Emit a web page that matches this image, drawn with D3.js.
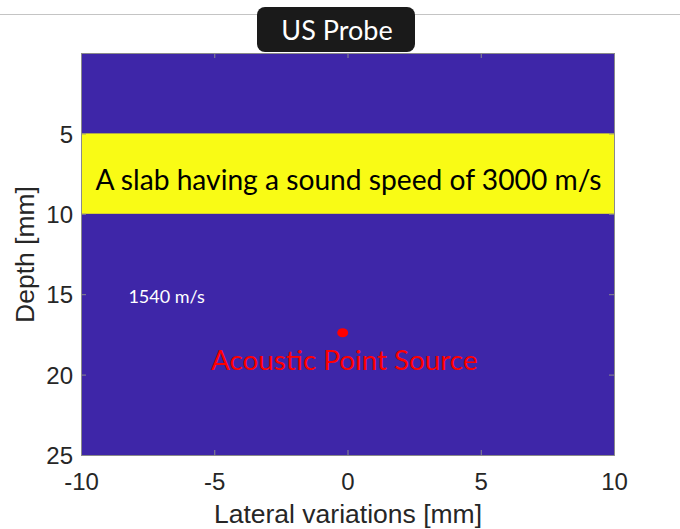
<!DOCTYPE html>
<html>
<head>
<meta charset="utf-8">
<script src="https://cdn.jsdelivr.net/npm/d3@7"></script>
<style>
  body { margin: 0; background: #fff; }
  svg { display: block; }
</style>
</head>
<body>
<div id="chart"></div>
<script>
const xDomain = [-10, 10]
const yDomain = [0, 25]
const xTicks = [-10, -5, 0, 5, 10]
const yTicks = [5, 10, 15, 20, 25]
const slabDepth = [5, 10]
const slabLabel = 'A slab having a sound speed of 3000 m/s'
const slabLabelDepth = 8.52
const mediumLabel = '1540 m/s'
const mediumPos = [-8.22, 15.55]
const sourcePoint = [-0.18, 17.4]
const sourceLabel = 'Acoustic Point Source'
const sourceLabelPos = [-0.12, 19.72]
const probeLabel = 'US Probe'

const margin = { left: 81, right: 66, top: 53, bottom: 74 }
const W = 680, H = 529
const width = W - margin.left - margin.right
const height = H - margin.top - margin.bottom

const svg = d3.select('#chart').append('svg')
  .attr('width', W)
  .attr('height', H)

// grey rule across the top
svg.append('line')
  .attr('x1', 0).attr('x2', W)
  .attr('y1', 14.5).attr('y2', 14.5)
  .attr('stroke', '#c4c4c4')
  .attr('stroke-width', 1.2)

const g = svg.append('g')
  .attr('transform', `translate(${margin.left}, ${margin.top})`)

const x = d3.scaleLinear().domain(xDomain).range([0, width])
const y = d3.scaleLinear().domain(yDomain).range([0, height])

// background medium
g.append('rect')
  .attr('width', width)
  .attr('height', height)
  .attr('fill', '#3e26a8')

// slab
g.append('rect')
  .attr('x', 0)
  .attr('y', y(slabDepth[0]))
  .attr('width', width)
  .attr('height', y(slabDepth[1]) - y(slabDepth[0]))
  .attr('fill', '#f9fb15')

// axes (ticks inward, like matlab)
const tickLen = 5
const axisColor = '#8a8a8a'
const fmt = d => String(d)
const bottomAxis = g.append('g')
  .attr('transform', `translate(0, ${height})`)
  .call(d3.axisBottom(x).tickValues(xTicks).tickSize(-tickLen).tickPadding(18).tickFormat(fmt))
const topAxis = g.append('g')
  .call(d3.axisTop(x).tickValues(xTicks).tickSize(-tickLen).tickFormat(''))
const leftAxis = g.append('g')
  .call(d3.axisLeft(y).tickValues(yTicks).tickSize(-tickLen).tickPadding(8).tickFormat(fmt))
const rightAxis = g.append('g')
  .attr('transform', `translate(${width}, 0)`)
  .call(d3.axisRight(y).tickValues(yTicks).tickSize(-tickLen).tickFormat(''))

;[bottomAxis, topAxis, leftAxis, rightAxis].forEach(a => {
  a.select('.domain').attr('stroke', axisColor).attr('stroke-width', 1)
  a.selectAll('.tick line').attr('stroke', axisColor)
  a.selectAll('text')
    .attr('font-family', 'Liberation Sans, Arial, sans-serif')
    .attr('font-size', '24px')
    .attr('fill', '#262626')
})
leftAxis.selectAll('text').attr('dy', '0.36em')

// axis labels
g.append('text')
  .attr('x', -(height / 2) - 0.5)
  .attr('y', -47)
  .attr('transform', 'rotate(-90)')
  .attr('text-anchor', 'middle')
  .attr('font-family', 'Liberation Sans, Arial, sans-serif')
  .attr('font-size', '26.5px')
  .attr('fill', '#262626')
  .text('Depth [mm]')

g.append('text')
  .attr('x', width / 2 + 0.5)
  .attr('y', height + 68)
  .attr('text-anchor', 'middle')
  .attr('font-family', 'Liberation Sans, Arial, sans-serif')
  .attr('font-size', '26.5px')
  .attr('fill', '#262626')
  .text('Lateral variations [mm]')

// annotations
const annoFont = 'Lato, Carlito, Calibri, sans-serif'

g.append('text')
  .attr('x', width / 2 + 1)
  .attr('y', y(slabLabelDepth))
  .attr('text-anchor', 'middle')
  .attr('font-family', annoFont)
  .attr('font-size', '28.2px')
  .attr('fill', '#000')
  .text(slabLabel)

g.append('text')
  .attr('x', x(mediumPos[0]))
  .attr('y', y(mediumPos[1]))
  .attr('font-family', annoFont)
  .attr('font-size', '18px')
  .attr('fill', '#fff')
  .text(mediumLabel)

g.append('ellipse')
  .attr('cx', x(sourcePoint[0]))
  .attr('cy', y(sourcePoint[1]))
  .attr('rx', 5.5)
  .attr('ry', 4.5)
  .attr('fill', '#ff0000')

g.append('text')
  .attr('x', x(sourceLabelPos[0]))
  .attr('y', y(sourceLabelPos[1]))
  .attr('text-anchor', 'middle')
  .attr('font-family', annoFont)
  .attr('font-size', '27.8px')
  .attr('fill', '#ff0000')
  .text(sourceLabel)

// probe box
const probe = svg.append('g')
probe.append('rect')
  .attr('x', 257).attr('y', 7)
  .attr('width', 158).attr('height', 45)
  .attr('rx', 8)
  .attr('fill', '#1a1a1a')
probe.append('text')
  .attr('x', 337).attr('y', 40)
  .attr('text-anchor', 'middle')
  .attr('font-family', annoFont)
  .attr('font-size', '27px')
  .attr('fill', '#fff')
  .text(probeLabel)
</script>
</body>
</html>
